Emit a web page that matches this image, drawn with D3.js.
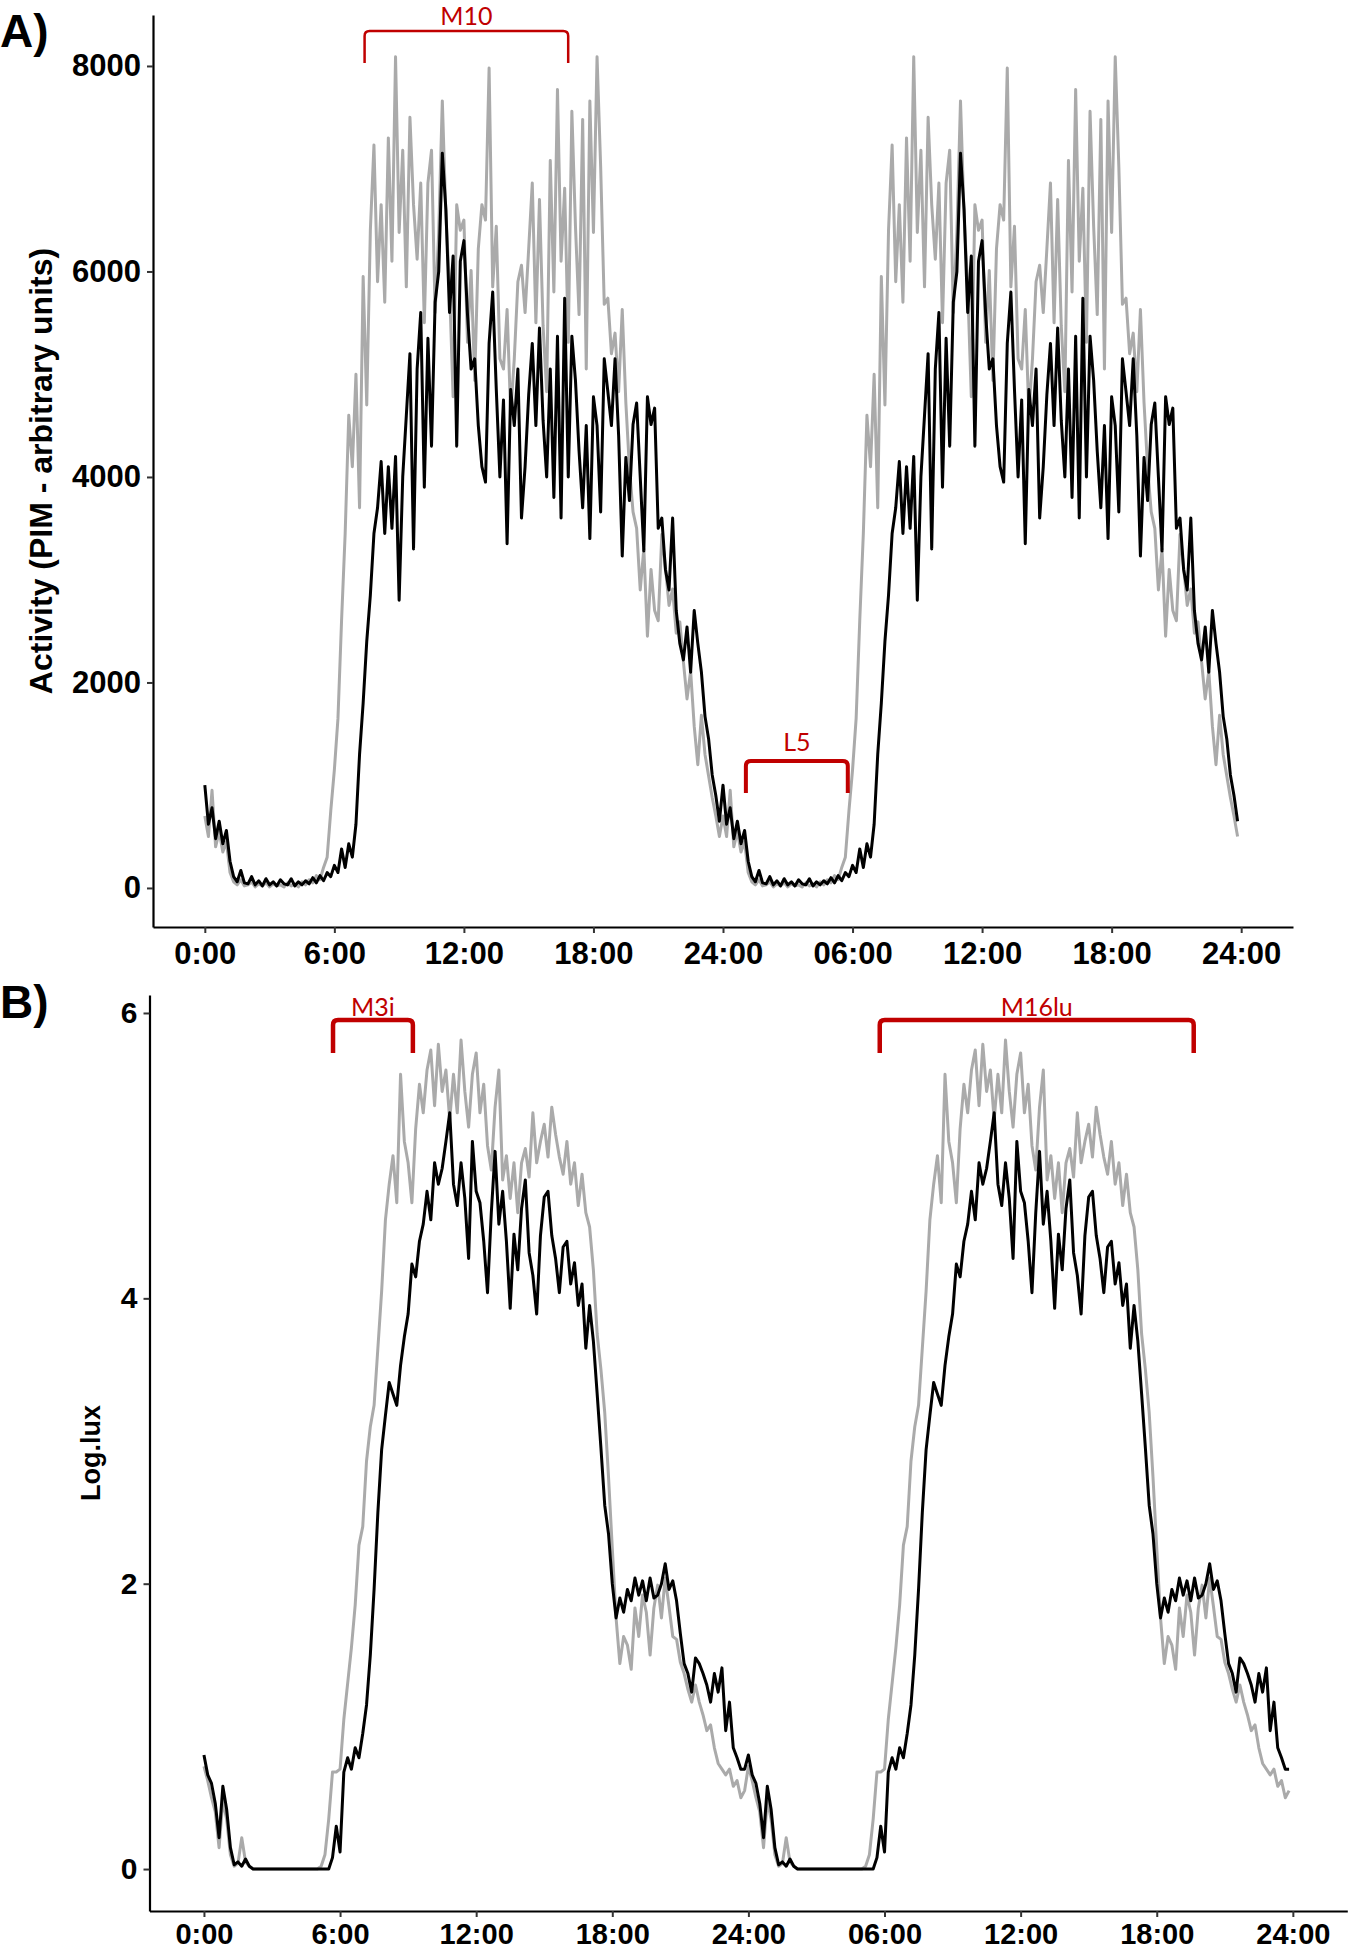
<!DOCTYPE html>
<html><head><meta charset="utf-8">
<script src="https://cdn.jsdelivr.net/npm/d3@7"></script>
<style>body{margin:0;background:#fff}svg{display:block}</style>
</head><body>
<svg id="chart" width="1349" height="1950"></svg>
<script>
// ---------- data (one 24 h profile at 10-min steps, double-plotted) ----------
const tickHours = [0, 6, 12, 18, 24, 30, 36, 42, 48];
const tickLabels = ["0:00", "6:00", "12:00", "18:00", "24:00", "06:00", "12:00", "18:00", "24:00"];
const activityTicks = [0, 2000, 4000, 6000, 8000];
const luxTicks = [0, 2, 4, 6];

const activityBlack = [
 1000,620,780,480,650,430, 560,260,110,60,170,50, 40,110,30,70,20,90, 30,60,20,80,40,30,
 90,20,60,30,70,40, 100,50,120,70,150,110, 220,150,380,200,430,300, 620,1300,1800,2400,2850,3450,
 3700,4150,3450,4100,3500,4200, 2800,4000,4600,5200,3300,5050, 5600,3900,5350,4300,5700,6000, 7150,6600,5600,6150,4300,6100,
 6300,5580,5050,5150,4500,4100, 3950,5300,5800,4850,4000,4750, 3350,4850,4500,5050,3600,4100, 4800,5300,4500,5450,4550,4000,
 5050,3800,5370,3600,5740,4000, 5370,4940,4250,3700,4500,3400, 4780,4500,3660,5150,4830,4500, 5150,4400,3230,4190,3770,4510,
 4720,4000,3280,4780,4510,4670, 3500,3600,3100,2900,3600,2700, 2380,2220,2540,2100,2700,2380, 2100,1670,1450,1100,900,650
];
const activityGray = [
 700,500,950,400,550,350, 450,150,60,30,80,20, 30,60,10,40,20,50, 10,40,20,30,10,50,
 20,40,10,60,30,80, 50,120,80,200,300,750, 1150,1650,2600,3450,4600,4100, 5000,3700,5950,4700,6400,7230,
 5900,6650,5700,7300,6100,8090, 6380,7180,5850,7500,6650,6120, 6860,5500,6860,7180,5600,6380, 7660,6540,5850,4780,6650,6400,
 6500,5310,6010,4940,6220,6650, 6500,7980,5850,6440,5150,5050, 5630,4620,5150,5900,6060,5600, 6220,6860,5500,6700,5470,4830,
 7080,5800,7770,6100,6810,5310, 7560,6440,5580,7480,5050,7660, 6380,8090,7020,5680,5740,5200, 5400,4830,5630,4725,4085,3660,
 3500,2900,3300,2450,3100,2700, 2600,3440,3120,2750,2910,2480, 2590,2200,1840,2110,1575,1200, 1680,1300,1090,880,700,500
];
const luxBlack = [
 0.80,0.66,0.60,0.46,0.22,0.58, 0.42,0.15,0.03,0.05,0.02,0.07, 0.02,0,0,0,0,0, 0,0,0,0,0,0,
 0,0,0,0,0,0, 0,0,0,0,0.08,0.30, 0.12,0.68,0.78,0.70,0.85,0.78, 0.95,1.15,1.50,1.96,2.50,2.94,
 3.18,3.41,3.33,3.25,3.53,3.73, 3.89,4.24,4.15,4.40,4.52,4.75, 4.55,4.95,4.80,4.91,5.10,5.30, 4.80,4.65,4.95,4.70,4.28,5.10,
 4.75,4.67,4.40,4.04,4.60,5.03, 4.52,4.75,4.40,3.93,4.45,4.20, 4.63,4.83,4.32,4.16,3.89,4.44, 4.71,4.75,4.44,4.28,4.04,4.36,
 4.40,4.10,4.25,3.95,4.10,3.65, 3.95,3.70,3.33,2.95,2.55,2.35, 2.00,1.76,1.90,1.80,1.96,1.88, 2.04,1.92,2.02,1.88,2.04,1.90,
 1.92,2.00,2.14,1.96,2.02,1.88, 1.65,1.44,1.37,1.24,1.48,1.44, 1.37,1.29,1.17,1.37,1.24,1.41, 0.97,1.17,0.85,0.78,0.70,0.70
];
const luxGray = [
 0.72,0.62,0.50,0.40,0.15,0.48, 0.35,0.10,0.02,0.04,0.22,0.05, 0.02,0,0,0,0,0, 0,0,0,0,0,0,
 0,0,0,0,0,0, 0,0.02,0.10,0.35,0.68,0.68, 0.70,1.05,1.30,1.55,1.85,2.27, 2.40,2.86,3.10,3.25,3.65,4.05,
 4.55,4.80,5.00,4.67,5.57,5.10, 4.95,4.67,5.19,5.50,5.30,5.60, 5.74,5.35,5.78,5.45,5.60,5.25, 5.57,5.30,5.81,5.45,5.20,5.57,
 5.72,5.30,5.50,5.07,4.90,5.34, 5.60,4.83,5.00,4.70,4.95,4.60, 4.95,5.05,4.85,5.30,4.95,5.10, 5.22,4.99,5.34,5.15,4.99,4.87,
 5.10,4.80,4.95,4.65,4.87,4.60, 4.50,4.20,3.75,3.50,3.20,2.75, 2.25,1.76,1.44,1.63,1.57,1.40, 1.83,1.63,1.92,1.80,1.50,1.83,
 1.99,1.76,2.04,1.84,1.63,1.61, 1.45,1.37,1.26,1.17,1.29,1.17, 1.08,0.97,1.01,0.85,0.74,0.70, 0.66,0.70,0.58,0.62,0.50,0.55
];

// bracket annotations: hours and data-unit heights
const bracketsA = [
  {label: "M10", start: 7.4, end: 16.83, top: 8340, bottom: 8030, width: 2.5, gap: 6},
  {label: "L5", start: 25.06, end: 29.78, top: 1236, bottom: 925, width: 4, gap: 10}
];
const bracketsB = [
  {label: "M3i", start: 5.69, end: 9.21, top: 5.95, bottom: 5.72, width: 4.5, gap: 4},
  {label: "M16lu", start: 29.79, end: 43.63, top: 5.95, bottom: 5.72, width: 4.5, gap: 4}
];

// ---------- drawing ----------
const svg = d3.select("#chart");
const FONT = "'Liberation Sans', Arial, sans-serif";
const RED = "#c00000";

function doublePlot(day) {
  return day.concat(day).map((v, i) => ({h: i / 6, v}));
}

function panel(cfg) {
  const g = svg.append("g");
  const x = d3.scaleLinear().domain([-2.4, 50.4]).range(cfg.xRange);
  const y = d3.scaleLinear().domain(cfg.yDomain).range(cfg.yRange);
  const line = d3.line().x(d => x(d.h)).y(d => y(d.v));

  g.append("path").datum(doublePlot(cfg.gray)).attr("d", line)
    .attr("fill", "none").attr("stroke", "#aaaaaa").attr("stroke-width", 3).attr("stroke-linejoin", "round");
  g.append("path").datum(doublePlot(cfg.black)).attr("d", line)
    .attr("fill", "none").attr("stroke", "#000").attr("stroke-width", 3).attr("stroke-linejoin", "round");

  const xAxis = g.append("g").attr("transform", `translate(0,${cfg.yRange[0]})`)
    .call(d3.axisBottom(x).tickValues(tickHours).tickFormat((d, i) => tickLabels[i]).tickSize(6).tickPadding(cfg.xPad).tickSizeOuter(0));
  const yAxis = g.append("g").attr("transform", `translate(${cfg.xRange[0]},0)`)
    .call(d3.axisLeft(y).tickValues(cfg.yTicks).tickFormat(d3.format("d")).tickSize(6).tickPadding(6).tickSizeOuter(0));
  [xAxis, yAxis].forEach(a => {
    a.select(".domain").attr("stroke", "#000").attr("stroke-width", 2.2);
    a.selectAll(".tick line").attr("stroke", "#333").attr("stroke-width", 2);
  });
  xAxis.selectAll("text").attr("fill", "#000").style("font-family", FONT)
    .style("font-weight", "bold").style("font-size", cfg.xTickFont + "px");
  yAxis.selectAll("text").attr("fill", "#000").style("font-family", FONT)
    .style("font-weight", "bold").style("font-size", cfg.yTickFont + "px");

  g.append("text").attr("transform", `translate(${cfg.titleX},${(cfg.yRange[0] + cfg.yRange[1]) / 2}) rotate(-90)`)
    .attr("text-anchor", "middle").style("font-family", FONT).style("font-weight", "bold")
    .style("font-size", cfg.titleFont + "px").text(cfg.title);

  g.append("text").attr("x", 0).attr("y", cfg.tagY).style("font-family", FONT).style("font-weight", "bold")
    .style("font-size", "46px").text(cfg.tag);

  cfg.brackets.forEach(b => {
    const x1 = x(b.start), x2 = x(b.end), yt = y(b.top), yb = y(b.bottom), r = 5;
    g.append("path")
      .attr("d", `M${x1},${yb} L${x1},${yt + r} Q${x1},${yt} ${x1 + r},${yt} L${x2 - r},${yt} Q${x2},${yt} ${x2},${yt + r} L${x2},${yb}`)
      .attr("fill", "none").attr("stroke", RED).attr("stroke-width", b.width);
    g.append("text").attr("x", (x1 + x2) / 2).attr("y", yt - b.gap).attr("text-anchor", "middle")
      .style("font-family", "Lato, 'Open Sans', sans-serif").style("font-size", "25px").attr("fill", RED).text(b.label);
  });
}

panel({
  xRange: [153, 1293], yRange: [927, 15], yDomain: [-380, 8496],
  gray: activityGray, black: activityBlack, yTicks: activityTicks,
  title: "Activity (PIM - arbitrary units)", titleX: 52, titleFont: 32, xTickFont: 31, yTickFont: 31, xPad: 9,
  tag: "A)", tagY: 47, brackets: bracketsA
});
panel({
  xRange: [149.5, 1347.3], yRange: [1911, 995], yDomain: [-0.294, 6.126],
  gray: luxGray, black: luxBlack, yTicks: luxTicks,
  title: "Log.lux", titleX: 100, titleFont: 27, xTickFont: 29, yTickFont: 30, xPad: 6,
  tag: "B)", tagY: 1018, brackets: bracketsB
});
</script>
</body></html>
